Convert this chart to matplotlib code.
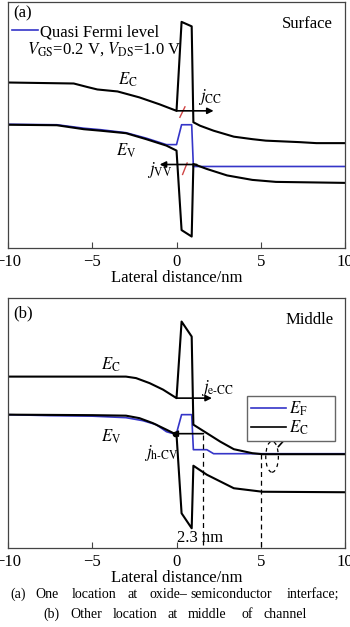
import numpy as np
import matplotlib
matplotlib.use('Agg')
import matplotlib.pyplot as plt
from matplotlib.lines import Line2D
from matplotlib.patches import Ellipse

plt.rcParams['font.family'] = ['Liberation Serif', 'DejaVu Serif']
plt.rcParams['mathtext.fontset'] = 'stix'
plt.rcParams['font.size'] = 12

# ---------------- data (energy in arbitrary eV) ----------------
# panel (a): surface
a_ec_x = [-10, -6.1, -5.3, -4.7, -3.5, -2.2, -1.0, 0, 0.3, 0.9, 1.0, 1.4, 2.2, 3.4, 4.5, 5.3, 7.3, 8.3, 10]
a_ec_y = [3.33, 3.31, 3.24, 3.19, 3.15, 3.03, 2.89, 2.76, 4.55, 4.46, 2.53, 2.46, 2.36, 2.24, 2.19, 2.16, 2.13, 2.11, 2.11]
a_ev_x = [-10, -7.1, -5.5, -4.5, -3.0, -1.8, -0.6, 0, 0.3, 0.9, 1.0, 1.8, 3.0, 4.5, 5.9, 10]
a_ev_y = [2.48, 2.47, 2.39, 2.36, 2.31, 2.19, 2.06, 1.96, 0.36, 0.23, 1.69, 1.59, 1.46, 1.37, 1.33, 1.31]
a_ef_x = [-10, -7.1, -5.5, -4.5, -3.0, -1.8, -0.6, 0, 0.3, 0.9, 1.0, 10]
a_ef_y = [2.49, 2.48, 2.41, 2.38, 2.32, 2.21, 2.08, 2.08, 2.48, 2.48, 1.64, 1.64]

# panel (b): middle of channel
b_ec_x = [-10, -3.0, -2.4, -1.6, -0.8, 0, 0.3, 0.9, 1.0, 1.8, 2.6, 3.4, 4.5, 5.1, 10]
b_ec_y = [3.43, 3.43, 3.40, 3.30, 3.17, 3.00, 4.53, 4.23, 2.47, 2.30, 2.13, 1.98, 1.90, 1.88, 1.88]
b_ev_x = [-10, -5.0, -3.0, -2.2, -1.4, -0.6, 0, 0.3, 0.9, 1.0, 1.8, 3.4, 5.1, 10]
b_ev_y = [2.67, 2.66, 2.65, 2.60, 2.50, 2.37, 2.27, 0.70, 0.40, 1.65, 1.47, 1.20, 1.13, 1.12]
b_ef_x = [-10, -7.5, -5.0, -3.0, -2.0, -1.2, -0.6, -0.3, 0, 0.3, 0.9, 1.0, 1.8, 2.2, 10]
b_ef_y = [2.67, 2.65, 2.64, 2.61, 2.55, 2.47, 2.33, 2.30, 2.30, 2.67, 2.67, 1.97, 1.97, 1.89, 1.89]

xticks = [-10, -5, 0, 5, 10]

BLUE = '#3535c8'
RED = '#d04545'
FRAME = '#444444'

fig = plt.figure(figsize=(3.5, 6.27), dpi=100)
ax1 = fig.add_axes([0.0229, 0.6045, 0.9629, 0.3923])
ax2 = fig.add_axes([0.0229, 0.1255, 0.9629, 0.3992])

for ax in (ax1, ax2):
    ax.set_xlim(-10, 10)
    ax.set_xticks(xticks)
    ax.set_yticks([])
    ax.tick_params(axis='x', direction='in', length=4, width=0.8, pad=4,
                   labelsize=12, color=FRAME)
    for sp in ax.spines.values():
        sp.set_edgecolor(FRAME)
        sp.set_linewidth(0.9)
    ax.set_xlabel('Lateral distance/nm', fontsize=12, labelpad=0)

arrow_kw = dict(arrowstyle='-|>', color='black', lw=1.2, mutation_scale=9,
                shrinkA=0, shrinkB=0)

# ---------------- (a) ----------------
ax1.set_ylim(0, 4.95)
ax1.plot(a_ef_x, a_ef_y, color=BLUE, lw=1.2)
ax1.plot(a_ec_x, a_ec_y, color='black', lw=1.5)
ax1.plot(a_ev_x, a_ev_y, color='black', lw=1.5)
ax1.annotate('', xy=(2.2, 2.76), xytext=(0, 2.76), arrowprops=arrow_kw)
ax1.annotate('', xy=(-1.0, 1.68), xytext=(1.2, 1.68), arrowprops=arrow_kw)
ax1.plot([0.2, 0.5], [2.63, 2.84], color=RED, lw=1.0)
ax1.plot([0.36, 0.63], [1.48, 1.71], color=RED, lw=1.0)

ax1.text(-2.9, 3.38, r'$E_\mathrm{C}$', ha='center', va='center', fontsize=12)
ax1.text(-3.0, 1.96, r'$E_\mathrm{V}$', ha='center', va='center', fontsize=12)
ax1.text(2.0, 3.04, r'$j_\mathrm{CC}$', ha='center', va='center', fontsize=12)
ax1.text(-1.0, 1.56, r'$j_\mathrm{VV}$', ha='center', va='center', fontsize=12)
ax1.text(0.015, 0.955, '(a)', transform=ax1.transAxes, ha='left', va='center', fontsize=12)
ax1.text(0.965, 0.91, 'Surface', transform=ax1.transAxes, ha='right', va='center', fontsize=12)
ax1.legend(handles=[Line2D([], [], color=BLUE, lw=1.2)], labels=['Quasi Fermi level'],
           loc='upper left', bbox_to_anchor=(0.012, 0.91), frameon=False,
           handlelength=1.55, handletextpad=0.15, borderpad=0, borderaxespad=0,
           fontsize=12)
ax1.text(0.0555, 0.81, r'$V_\mathrm{GS}$=0.2 V, $V_\mathrm{DS}$=1.0 V',
         transform=ax1.transAxes, ha='left', va='center', fontsize=12)

# ---------------- (b) ----------------
ax2.set_ylim(0, 5.0)
ax2.plot(b_ef_x, b_ef_y, color=BLUE, lw=1.2)
ax2.plot(b_ec_x, b_ec_y, color='black', lw=1.5)
ax2.plot(b_ev_x, b_ev_y, color='black', lw=1.5)
ax2.annotate('', xy=(2.1, 3.0), xytext=(0, 3.0), arrowprops=arrow_kw)
ax2.annotate('', xy=(-0.3, 2.29), xytext=(1.6, 2.29), arrowprops=arrow_kw)
ax2.plot([-0.1], [2.29], 'o', color='black', ms=3)
ax2.plot([1.55, 1.55], [2.27, 0], color='black', lw=0.9, ls=(0, (4, 3)))
ax2.plot([5.0, 5.0], [1.88, 0], color='black', lw=0.9, ls=(0, (4, 3)))
ax2.add_patch(Ellipse((5.67, 1.83), 0.75, 0.62, angle=0, fill=False,
                      ls=(0, (3, 3)), lw=0.9, color='black'))
ax2.annotate('', xy=(6.74, 2.29), xytext=(6.04, 2.03), arrowprops=arrow_kw)

ax2.text(-3.9, 3.67, r'$E_\mathrm{C}$', ha='center', va='center', fontsize=12)
ax2.text(-3.9, 2.23, r'$E_\mathrm{V}$', ha='center', va='center', fontsize=12)
ax2.text(2.4, 3.2, r'$j_\mathrm{e\text{-}CC}$', ha='center', va='center', fontsize=12)
ax2.text(-0.9, 1.9, r'$j_\mathrm{h\text{-}CV}$', ha='center', va='center', fontsize=12)
ax2.text(1.4, 0.2, '2.3 nm', ha='center', va='center', fontsize=12)
ax2.text(0.015, 0.94, '(b)', transform=ax2.transAxes, ha='left', va='center', fontsize=12)
ax2.text(0.965, 0.912, 'Middle', transform=ax2.transAxes, ha='right', va='center', fontsize=12)
ax2.legend(handles=[Line2D([], [], color=BLUE, lw=1.2), Line2D([], [], color='black', lw=1.2)],
           labels=[r'$E_\mathrm{F}$' + '      ', r'$E_\mathrm{C}$' + '      '],
           loc='upper left', bbox_to_anchor=(0.708, 0.609), frameon=True, fancybox=False,
           edgecolor='#666666', framealpha=1, handlelength=2.1, handletextpad=0.2,
           labelspacing=0.0, borderpad=0.25, borderaxespad=0, fontsize=12)

# ---------------- caption ----------------
cap1 = ['(a)', 'One', 'location', 'at', 'oxide\u2013', 'semiconductor', 'interface;']
cap1_px = [10, 35, 72, 128, 150, 190, 287]
cap2 = ['(b)', 'Other', 'location', 'at', 'middle', 'of', 'channel']
cap2_px = [43, 70, 113, 168, 188, 242, 263]
for w, px in zip(cap1, cap1_px):
    fig.text(px / 350, 1 - 594.5 / 627, w, ha='left', va='center', fontsize=10)
for w, px in zip(cap2, cap2_px):
    fig.text(px / 350, 1 - 614.5 / 627, w, ha='left', va='center', fontsize=10)

fig.savefig('out.png', dpi=100)
